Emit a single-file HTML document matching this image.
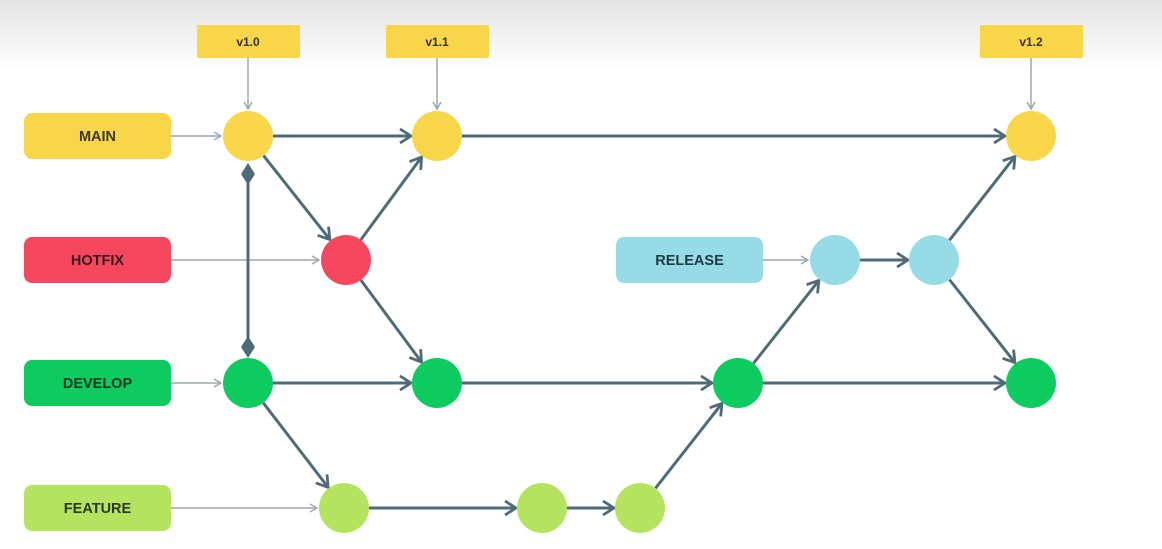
<!DOCTYPE html>
<html><head><meta charset="utf-8"><style>
html,body{margin:0;padding:0;width:1162px;height:549px;overflow:hidden;background:#fff}
svg{display:block}
text{font-family:"Liberation Sans",sans-serif;font-weight:bold}
</style></head><body>
<svg id="s" width="1162" height="549" viewBox="0 0 1162 549">
<defs>
<linearGradient id="g" x1="0" y1="0" x2="0" y2="1"><stop offset="0" stop-color="#e4e4e4"/><stop offset="1" stop-color="#fff"/></linearGradient>
<marker id="a" viewBox="0 0 16 16" refX="14" refY="8" markerWidth="16" markerHeight="16" markerUnits="userSpaceOnUse" orient="auto"><polyline points="3,1 14,8 3,15" fill="none" stroke="#4f6b7a" stroke-width="2.8"/></marker>
<marker id="t" viewBox="0 0 10 10" refX="9" refY="5" markerWidth="10" markerHeight="10" markerUnits="userSpaceOnUse" orient="auto"><polyline points="2,1 9,5 2,9" fill="none" stroke="#9aa8b0" stroke-width="1.5"/></marker>
</defs>
<rect width="1162" height="70" fill="url(#g)"/>
</svg>
<script>
const s=document.getElementById('s'),NS='http://www.w3.org/2000/svg';
function el(n,a,txt){const e=document.createElementNS(NS,n);for(const k in a)e.setAttribute(k,a[k]);if(txt)e.textContent=txt;s.appendChild(e);return e}
const Y={m:136,h:260,d:383,f:508},R=25;
[['MAIN',Y.m,'#f9d54a','#3a3a2a',24],['HOTFIX',Y.h,'#f5485f','#3a1a20',24],['DEVELOP',Y.d,'#0ecb5f','#0c3a22',24],['FEATURE',Y.f,'#b4e45f','#2a3a1a',24],['RELEASE',Y.h,'#96dbe6','#1f3a40',616]].forEach(([t,y,c,tc,x])=>{
 el('rect',{x:x,y:y-23,width:147,height:46,rx:8,fill:c});
 el('text',{x:x+73.5,y:y+5,'text-anchor':'middle','font-size':14.5,fill:tc},t);
});
[['v1.0',248],['v1.1',437],['v1.2',1031]].forEach(([t,x])=>{
 el('rect',{x:x-51,y:25,width:103,height:33,rx:2,fill:'#f9d54a'});
 el('text',{x:x,y:46,'text-anchor':'middle','font-size':12,fill:'#333'},t);
 el('line',{x1:x,y1:58,x2:x,y2:Y.m-R-2,stroke:'#9aa8b0','stroke-width':1.5,'marker-end':'url(#t)'});
});
[[171,Y.m,248],[171,Y.h,346],[171,Y.d,248],[171,Y.f,344],[763,Y.h,835]].forEach(([x1,y,x2])=>el('line',{x1:x1,y1:y,x2:x2-R-2,y2:y,stroke:'#9aa8b0','stroke-width':1.5,'marker-end':'url(#t)'}));
function ed(x1,y1,x2,y2){const dx=x2-x1,dy=y2-y1,L=Math.hypot(dx,dy),ux=dx/L,uy=dy/L;
 el('line',{x1:x1+ux*R,y1:y1+uy*R,x2:x2-ux*(R+1),y2:y2-uy*(R+1),stroke:'#4f6b7a','stroke-width':3,'marker-end':'url(#a)'});}
ed(248,Y.m,437,Y.m);ed(437,Y.m,1031,Y.m);ed(248,Y.m,346,Y.h);ed(346,Y.h,437,Y.m);ed(346,Y.h,437,Y.d);
ed(248,Y.d,437,Y.d);ed(437,Y.d,738,Y.d);ed(738,Y.d,1031,Y.d);ed(248,Y.d,344,Y.f);
ed(344,Y.f,542,Y.f);ed(542,Y.f,640,Y.f);ed(640,Y.f,738,Y.d);ed(738,Y.d,835,Y.h);ed(835,Y.h,934,Y.h);ed(934,Y.h,1031,Y.m);ed(934,Y.h,1031,Y.d);
el('line',{x1:248,y1:180,x2:248,y2:346,stroke:'#4f6b7a','stroke-width':3});
el('polygon',{points:'248,163 255,174 248,185 241,174',fill:'#4f6b7a'});
el('polygon',{points:'248,336 255,347 248,358 241,347',fill:'#4f6b7a'});
[[248,Y.m,'#f9d54a'],[437,Y.m,'#f9d54a'],[1031,Y.m,'#f9d54a'],[346,Y.h,'#f5485f'],[835,Y.h,'#96dbe6'],[934,Y.h,'#96dbe6'],
[248,Y.d,'#0ecb5f'],[437,Y.d,'#0ecb5f'],[738,Y.d,'#0ecb5f'],[1031,Y.d,'#0ecb5f'],[344,Y.f,'#b4e45f'],[542,Y.f,'#b4e45f'],[640,Y.f,'#b4e45f']].forEach(([x,y,c])=>el('circle',{cx:x,cy:y,r:R,fill:c}));
</script>
</body></html>
